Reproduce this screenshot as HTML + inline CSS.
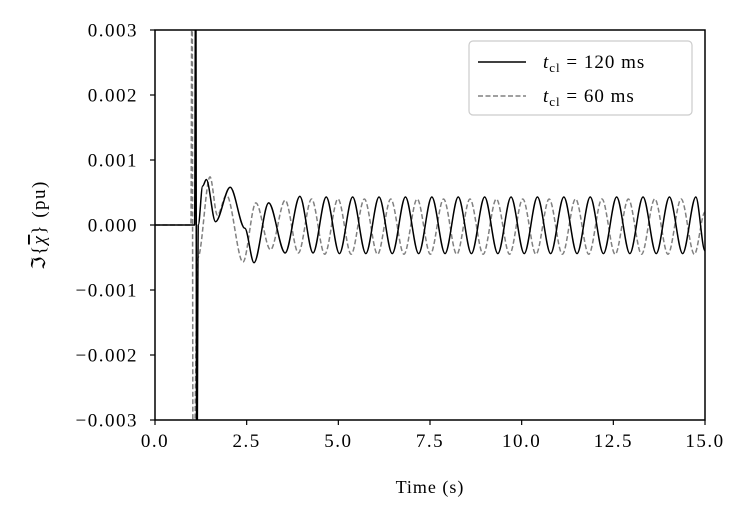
<!DOCTYPE html>
<html><head><meta charset="utf-8"><style>
body{margin:0;background:#fff;}
svg{display:block;font-family:"Liberation Serif","DejaVu Serif",serif;}
</style></head><body>
<svg id="chart" width="749" height="521" viewBox="0 0 749 521">
<defs><clipPath id="pc"><rect x="155" y="30" width="550" height="390"/></clipPath></defs>
<rect x="0" y="0" width="749" height="521" fill="#fff"/>
<g id="series" clip-path="url(#pc)"></g>
<g id="axes"></g>
<rect x="155" y="30" width="550" height="390" fill="none" stroke="#000" stroke-width="1.5"/>
<text x="430" y="493" font-size="18" letter-spacing="1" text-anchor="middle">Time (s)</text>
<text transform="translate(45,225) rotate(-90)" font-size="19" letter-spacing="1.5" text-anchor="middle">ℑ{<tspan text-decoration="overline" font-style="italic">χ</tspan>} (pu)</text>
<g>
<rect x="469" y="41" width="223" height="74" rx="4" fill="#fff" stroke="#ccc" stroke-width="1.2"/>
<line x1="478" y1="62" x2="526" y2="62" stroke="#000" stroke-width="1.5"/>
<text x="543" y="68" font-size="19" letter-spacing="1"><tspan font-style="italic">t</tspan><tspan font-size="13" dy="4">cl</tspan><tspan dy="-4"> = 120 ms</tspan></text>
<line x1="478" y1="96" x2="526" y2="96" stroke="#808080" stroke-width="1.5" stroke-dasharray="5,2.5"/>
<text x="543" y="102" font-size="19" letter-spacing="1"><tspan font-style="italic">t</tspan><tspan font-size="13" dy="4">cl</tspan><tspan dy="-4"> = 60 ms</tspan></text>
</g>
</svg>
<script>
const xTicks=[0,2.5,5,7.5,10,12.5,15];
const xTickLabels=["0.0","2.5","5.0","7.5","10.0","12.5","15.0"];
const yTicks=[-0.003,-0.002,-0.001,0,0.001,0.002,0.003];
const yTickLabels=["\u22120.003","\u22120.002","\u22120.001","0.000","0.001","0.002","0.003"];
const tSolid=[0,1.08,1.11,1.14,1.18,1.3,1.4,1.65,2.05,2.45,2.7,3.1,3.55,3.95,4.31,4.67,5.03,5.39,5.75,6.11,6.47,6.83,7.19,7.55,7.91,8.27,8.63,8.99,9.35,9.71,10.07,10.43,10.79,11.15,11.51,11.87,12.23,12.59,12.95,13.31,13.67,14.03,14.39,14.75,15.0];
const vSolid=[0,0,0.0045,-0.0045,0,0.0006,0.0007,0.00005,0.00058,-0.00005,-0.00058,0.00034,-0.00043,0.00044,-0.00043,0.00043,-0.00044,0.00043,-0.00044,0.00043,-0.00044,0.00043,-0.00044,0.00043,-0.00044,0.00043,-0.00044,0.00043,-0.00044,0.00043,-0.00044,0.00043,-0.00044,0.00043,-0.00044,0.00043,-0.00044,0.00043,-0.00044,0.00043,-0.00044,0.00043,-0.00044,0.00043,-0.0004];
const tDash=[0,0.98,1.01,1.04,1.17,1.5,1.7,1.95,2.4,2.75,3.15,3.55,3.91,4.27,4.63,4.99,5.35,5.71,6.07,6.43,6.79,7.15,7.51,7.87,8.23,8.59,8.95,9.31,9.67,10.03,10.39,10.75,11.11,11.47,11.83,12.19,12.55,12.91,13.27,13.63,13.99,14.35,14.71,15.0];
const vDash=[0,0,0.0045,-0.0045,-0.0005,0.00074,0.00015,0.00046,-0.00057,0.00034,-0.00038,0.00038,-0.00043,0.0004,-0.00045,0.0004,-0.00045,0.0004,-0.00045,0.0004,-0.00045,0.0004,-0.00045,0.0004,-0.00045,0.0004,-0.00045,0.0004,-0.00045,0.0004,-0.00045,0.0004,-0.00045,0.0004,-0.00045,0.0004,-0.00045,0.0004,-0.00045,0.0004,-0.00045,0.0004,-0.00045,0.0002];
const NS="http://www.w3.org/2000/svg";
const X=t=>155+(t-0)/(15-0)*550;
const Y=v=>420-(v+0.003)/0.006*390;
const axes=document.getElementById('axes');
const series=document.getElementById('series');
xTicks.forEach((t,i)=>{
 const l=document.createElementNS(NS,'line');
 l.setAttribute('x1',X(t));l.setAttribute('x2',X(t));l.setAttribute('y1',420);l.setAttribute('y2',425);
 l.setAttribute('stroke','#000');l.setAttribute('stroke-width','1.2');
 
 
 axes.appendChild(l);
 const tx=document.createElementNS(NS,'text');
 tx.setAttribute('x',X(t));tx.setAttribute('y',447);tx.setAttribute('font-size','19');tx.setAttribute('letter-spacing','1.5');tx.setAttribute('text-anchor','middle');
 tx.textContent=xTickLabels[i];
 
 
 axes.appendChild(tx);
});
yTicks.forEach((v,i)=>{
 const l=document.createElementNS(NS,'line');
 l.setAttribute('x1',150);l.setAttribute('x2',155);l.setAttribute('y1',Y(v));l.setAttribute('y2',Y(v));
 l.setAttribute('stroke','#000');l.setAttribute('stroke-width','1.2');
 
 
 axes.appendChild(l);
 const tx=document.createElementNS(NS,'text');
 tx.setAttribute('x',138);tx.setAttribute('y',Y(v)+6.5);tx.setAttribute('font-size','19');tx.setAttribute('letter-spacing','1.5');tx.setAttribute('text-anchor','end');
 tx.textContent=yTickLabels[i];
 
 
 axes.appendChild(tx);
});
function pathOf(ts,vs){
 let d='M'+X(ts[0])+','+Y(vs[0]);
 for(let i=1;i<ts.length;i++){
  const x0=X(ts[i-1]),y0=Y(vs[i-1]),x1=X(ts[i]),y1=Y(vs[i]);
  const dx=(x1-x0)/3;
  d+=' C'+(x0+dx)+','+y0+' '+(x1-dx)+','+y1+' '+x1+','+y1;
 }
 return d;
}
const pd=document.createElementNS(NS,'path');
pd.setAttribute('d',pathOf(tDash,vDash));
pd.setAttribute('fill','none');pd.setAttribute('stroke','#808080');pd.setAttribute('stroke-width','1.5');pd.setAttribute('stroke-dasharray','5,2.5');


series.appendChild(pd);
const ps=document.createElementNS(NS,'path');
ps.setAttribute('d',pathOf(tSolid,vSolid));
ps.setAttribute('fill','none');ps.setAttribute('stroke','#000');ps.setAttribute('stroke-width','1.5');


series.appendChild(ps);
</script>
</body></html>
